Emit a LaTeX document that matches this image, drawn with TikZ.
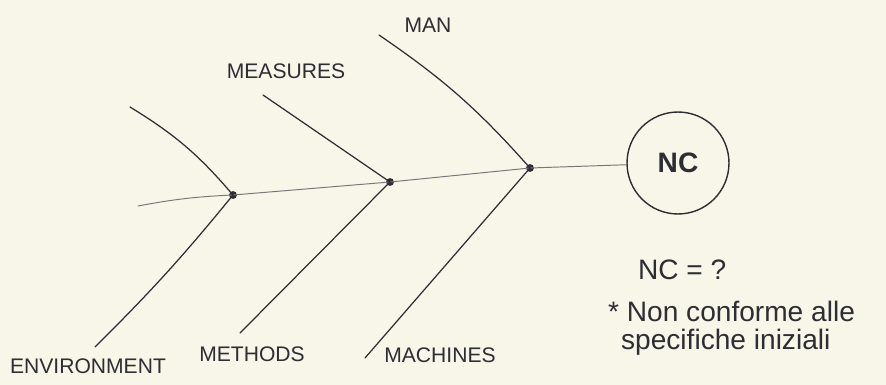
\documentclass[tikz,border=0pt]{standalone}
\usepackage{fontspec}
\setmainfont{Liberation Sans}
\definecolor{paper}{RGB}{248,246,232}
\definecolor{ink}{RGB}{45,45,52}
\begin{document}
\begin{tikzpicture}[x=0.02cm,y=-0.02cm,line cap=round,
  every node/.style={text=ink,inner sep=1pt},
  bone/.style={draw=ink,line width=0.7pt},
  spine/.style={draw=ink!65,line width=0.55pt},
  joint/.style={circle,fill=ink,inner sep=0pt,minimum size=4.5pt},
  cat/.style={font=\fontsize{12}{14}\selectfont},
  note/.style={anchor=west,font=\fontsize{16}{18}\selectfont}]
  \fill[paper] (0,0) rectangle (886,385);
  \coordinate (tail) at (138,206);
  \node[joint] (j1) at (233,195) {};
  \node[joint] (j2) at (390,182) {};
  \node[joint] (j3) at (530,168) {};
  \node[circle,draw=ink,line width=0.8pt,minimum size=2.04cm,inner sep=0pt,font=\fontsize{16}{18}\selectfont\bfseries] (nc) at (678,163) {NC};
  \coordinate (envT) at (130,107);
  \coordinate (meaT) at (263,95);
  \coordinate (manT) at (379,35);
  \coordinate (envB) at (95,347);
  \coordinate (metB) at (240,333);
  \coordinate (macB) at (365,358);
  \draw[spine] (tail) to[bend left=4] (j1.center) -- (j2.center) -- (j3.center) -- (nc);
  \draw[bone] (envT) to[bend left=9] (j1.center);
  \draw[bone] (meaT) -- (j2.center);
  \draw[bone] (manT) to[bend left=7] (j3.center);
  \draw[bone] (j1.center) to[bend left=3] (envB);
  \draw[bone] (j2.center) -- (metB);
  \draw[bone] (j3.center) -- (macB);
  \node[cat] (man) at (428,25) {MAN};
  \node[cat] (mea) at (286,71) {MEASURES};
  \node[cat] (env) at (88,366) {ENVIRONMENT};
  \node[cat] (met) at (252,354) {METHODS};
  \node[cat] (mac) at (440,355) {MACHINES};
  \node[note] (ncq) at (636,270) {NC = ?};
  \node[note] (def1) at (606,311) {* Non conforme alle};
  \node[note] (def2) at (619,342) {specifiche iniziali};
\end{tikzpicture}
\end{document}
